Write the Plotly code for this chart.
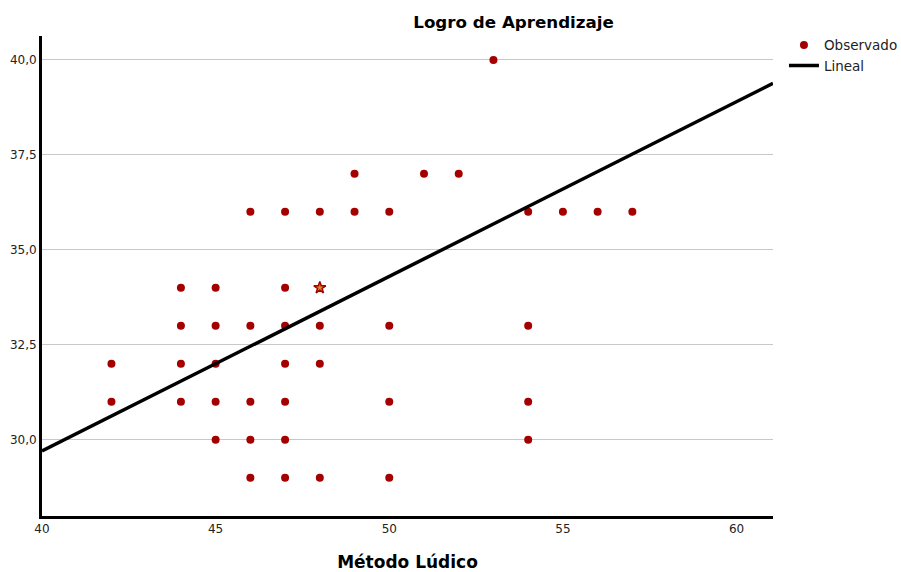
import plotly.graph_objects as go
import numpy as np

# Observed points (Método Lúdico, Logro de Aprendizaje)
obs_x = [53,
         49, 51, 52,
         46, 47, 48, 49, 50, 54, 55, 56, 57,
         44, 45, 47,
         44, 45, 46, 47, 48, 50, 54,
         42, 44, 45, 47, 48,
         42, 44, 45, 46, 47, 50, 54,
         45, 46, 47, 54,
         46, 47, 48, 50]
obs_y = [40,
         37, 37, 37,
         36, 36, 36, 36, 36, 36, 36, 36, 36,
         34, 34, 34,
         33, 33, 33, 33, 33, 33, 33,
         32, 32, 32, 32, 32,
         31, 31, 31, 31, 31, 31, 31,
         30, 30, 30, 30,
         29, 29, 29, 29]
# Highlighted observation (star)
star_x = [48]
star_y = [34]

# Linear fit
fit_intercept = 11.3
fit_slope = 0.46

x_range = [40, 61.05]
y_range = [27.99, 40.63]
x_ticks = [40, 45, 50, 55, 60]
y_ticks = [30, 32.5, 35, 37.5, 40]

marker_color = "#a50000"

fig = go.Figure()
fig.add_trace(go.Scatter(
    x=obs_x, y=obs_y, mode="markers", name="Observado",
    marker=dict(symbol="circle", size=8, color=marker_color,
                line=dict(width=0)),
))
fig.add_trace(go.Scatter(
    x=star_x, y=star_y, mode="markers", showlegend=False,
    marker=dict(symbol="star", size=9, color="#d98a1a",
                line=dict(width=1.5, color=marker_color)),
))
fx = np.array(x_range)
fig.add_trace(go.Scatter(
    x=fx, y=fit_intercept + fit_slope * fx, mode="lines", name="Lineal",
    line=dict(color="black", width=3.5),
))

font_family = "DejaVu Sans, Liberation Sans, sans-serif"
fig.update_layout(
    width=901, height=572,
    margin=dict(l=42, r=128, t=36, b=56, autoexpand=False),
    plot_bgcolor="white", paper_bgcolor="white",
    font=dict(family=font_family, size=12, color="#222"),
    separators=",.",
    title=dict(text="<b>Logro de Aprendizaje</b>", x=0.57, xanchor="center",
               y=0.962, yanchor="middle",
               font=dict(size=16.7, color="black", family=font_family)),
    xaxis=dict(range=x_range, tickvals=x_ticks, showgrid=False,
               zeroline=False, showline=True, linewidth=3, linecolor="black",
               ticks="", tickfont=dict(size=12, color="#222"),
               automargin=False,
               title=dict(text="<b>Método Lúdico</b>", standoff=25,
                          font=dict(size=17, color="black"))),
    yaxis=dict(range=y_range, tickvals=y_ticks, tickformat=".1f",
               showgrid=True, gridcolor="#c8c8c8", gridwidth=1.2,
               zeroline=False, showline=True, linewidth=3, linecolor="black",
               ticks="", tickfont=dict(size=12, color="#222"),
               automargin=False),
    legend=dict(x=1.015, y=1.013, xanchor="left", yanchor="top",
                font=dict(size=13.5, color="#222"), tracegroupgap=0,
                itemwidth=30, bgcolor="rgba(0,0,0,0)"),
)

fig.write_html(
    "out.html",
    config={"displayModeBar": False},
    post_script="document.body.style.margin='0';document.body.style.overflow='hidden';",
)
